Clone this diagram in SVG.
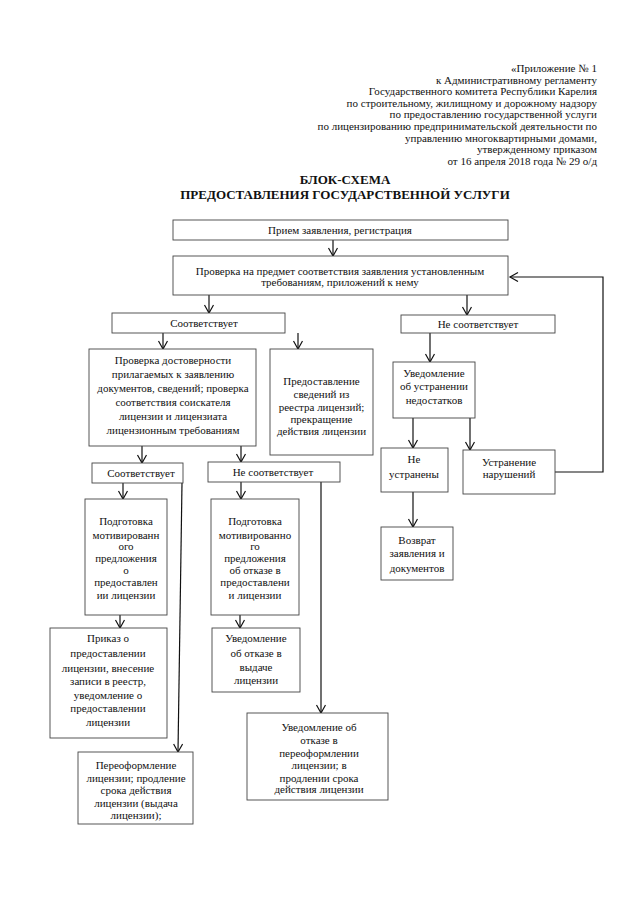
<svg xmlns="http://www.w3.org/2000/svg" width="639" height="905" viewBox="0 0 639 905">
<style>
text{font-family:"Liberation Serif","Times New Roman",serif;font-size:11px;fill:#111}
.hd{text-anchor:end}
.tt{font-weight:bold;font-size:13px;text-anchor:middle}
.c{text-anchor:middle}
rect{fill:#fff;stroke:#444;stroke-width:0.9}
.cn line,.cn polyline{stroke:#111;stroke-width:1.2;fill:none}
</style>
<defs>
<marker id="ar" markerUnits="userSpaceOnUse" markerWidth="12" markerHeight="12" refX="9" refY="5" orient="auto">
<path d="M1,0.5 L9,5 L1,9.5" fill="none" stroke="#111" stroke-width="1.2"/>
</marker>
</defs>
<rect x="0" y="0" width="639" height="905" style="fill:#fff;stroke:none"/>
<g id="header">
<text class="hd" x="597" y="72">«Приложение № 1</text>
<text class="hd" x="597" y="83.6">к Административному регламенту</text>
<text class="hd" x="597" y="95.2">Государственного комитета Республики Карелия</text>
<text class="hd" x="597" y="106.8">по строительному, жилищному и дорожному надзору</text>
<text class="hd" x="597" y="118.4">по предоставлению государственной услуги</text>
<text class="hd" x="597" y="130">по лицензированию предпринимательской деятельности по</text>
<text class="hd" x="597" y="141.6">управлению многоквартирными домами,</text>
<text class="hd" x="597" y="153.2">утвержденному приказом</text>
<text class="hd" x="597" y="164.8">от 16 апреля 2018 года  № 29 о/д</text>
</g>
<g id="title">
<text class="tt" x="345" y="184">БЛОК-СХЕМА</text>
<text class="tt" x="345" y="199">ПРЕДОСТАВЛЕНИЯ ГОСУДАРСТВЕННОЙ УСЛУГИ</text>
</g>
<g class="cn" id="connectors">
<line x1="333" y1="240" x2="333" y2="256" marker-end="url(#ar)"/>
<line x1="209" y1="295" x2="209" y2="313" marker-end="url(#ar)"/>
<line x1="467" y1="295" x2="467" y2="315" marker-end="url(#ar)"/>
<polyline points="555,472 603,472 603,277 510,277" marker-end="url(#ar)"/>
<line x1="163" y1="333" x2="163" y2="349" marker-end="url(#ar)"/>
<line x1="298" y1="333" x2="298" y2="349" marker-end="url(#ar)"/>
<line x1="430" y1="333" x2="430" y2="362" marker-end="url(#ar)"/>
<line x1="413" y1="418" x2="413" y2="448" marker-end="url(#ar)"/>
<line x1="470" y1="418" x2="470" y2="450" marker-end="url(#ar)"/>
<line x1="413" y1="492" x2="413" y2="527" marker-end="url(#ar)"/>
<line x1="142" y1="446" x2="142" y2="463" marker-end="url(#ar)"/>
<line x1="241" y1="446" x2="241" y2="462" marker-end="url(#ar)"/>
<line x1="182" y1="483" x2="178" y2="752" marker-end="url(#ar)"/>
<line x1="321" y1="482" x2="321" y2="713" marker-end="url(#ar)"/>
<line x1="123" y1="483" x2="123" y2="499" marker-end="url(#ar)"/>
<line x1="241" y1="482" x2="241" y2="499" marker-end="url(#ar)"/>
<line x1="120" y1="615" x2="120" y2="628" marker-end="url(#ar)"/>
<line x1="240" y1="615" x2="240" y2="628" marker-end="url(#ar)"/>
</g>
<g id="n1"><rect x="173" y="220" width="335" height="20"/>
<text class="c" x="340" y="234">Прием заявления, регистрация</text></g>
<g id="n2"><rect x="173" y="256" width="335" height="39"/>
<text class="c" x="340" y="274.5">Проверка на предмет соответствия заявления установленным</text>
<text class="c" x="340" y="285.5">требованиям, приложений к нему</text></g>
<g id="n3"><rect x="112" y="313" width="173" height="20"/>
<text class="c" x="204" y="327">Соответствует</text></g>
<g id="n4"><rect x="401" y="315" width="154" height="18"/>
<text class="c" x="478" y="328">Не соответствует</text></g>
<g id="n5"><rect x="89" y="349" width="167" height="97"/>
<text class="c" x="173" y="364">Проверка достоверности</text>
<text class="c" x="173" y="378">прилагаемых к заявлению</text>
<text class="c" x="173" y="392">документов, сведений; проверка</text>
<text class="c" x="173" y="406">соответствия соискателя</text>
<text class="c" x="173" y="420">лицензии и лицензиата</text>
<text class="c" x="173" y="434">лицензионным требованиям</text></g>
<g id="n6"><rect x="270" y="349" width="103" height="106"/>
<text class="c" x="321.5" y="385">Предоставление</text>
<text class="c" x="321.5" y="398">сведений из</text>
<text class="c" x="321.5" y="411">реестра лицензий;</text>
<text class="c" x="321.5" y="423">прекращение</text>
<text class="c" x="321.5" y="435">действия лицензии</text></g>
<g id="n7"><rect x="393" y="362" width="82" height="56"/>
<text class="c" x="434" y="377">Уведомление</text>
<text class="c" x="434" y="390">об устранении</text>
<text class="c" x="434" y="404">недостатков</text></g>
<g id="n8"><rect x="381" y="448" width="67" height="44"/>
<text class="c" x="414" y="463">Не</text>
<text class="c" x="414" y="478">устранены</text></g>
<g id="n9"><rect x="463" y="450" width="92" height="44"/>
<text class="c" x="509" y="466">Устранение</text>
<text class="c" x="509" y="478">нарушений</text></g>
<g id="n10"><rect x="381" y="527" width="72" height="53"/>
<text class="c" x="417" y="544">Возврат</text>
<text class="c" x="417" y="557">заявления и</text>
<text class="c" x="417" y="572">документов</text></g>
<g id="n11"><rect x="92" y="463" width="91" height="20"/>
<text class="c" x="141" y="477">Соответствует</text></g>
<g id="n12"><rect x="208" y="462" width="132" height="20"/>
<text class="c" x="273" y="476">Не соответствует</text></g>
<g id="n13"><rect x="85" y="499" width="82" height="116"/>
<text class="c" x="126" y="525">Подготовка</text>
<text class="c" x="126" y="539">мотивированн</text>
<text class="c" x="126" y="550">ого</text>
<text class="c" x="126" y="562">предложения</text>
<text class="c" x="126" y="574">о</text>
<text class="c" x="126" y="586">предоставлен</text>
<text class="c" x="126" y="599">ии лицензии</text></g>
<g id="n14"><rect x="211" y="499" width="88" height="116"/>
<text class="c" x="255" y="525">Подготовка</text>
<text class="c" x="255" y="539">мотивированно</text>
<text class="c" x="255" y="550">го</text>
<text class="c" x="255" y="562">предложения</text>
<text class="c" x="255" y="574">об отказе в</text>
<text class="c" x="255" y="586">предоставлени</text>
<text class="c" x="255" y="599">и лицензии</text></g>
<g id="n15"><rect x="50" y="628" width="117" height="110"/>
<text class="c" x="108" y="642">Приказ о</text>
<text class="c" x="108" y="657">предоставлении</text>
<text class="c" x="108" y="672">лицензии, внесение</text>
<text class="c" x="108" y="685">записи в реестр,</text>
<text class="c" x="108" y="699">уведомление о</text>
<text class="c" x="108" y="712">предоставлении</text>
<text class="c" x="108" y="726">лицензии</text></g>
<g id="n16"><rect x="212" y="628" width="88" height="64"/>
<text class="c" x="256" y="642">Уведомление</text>
<text class="c" x="256" y="657">об отказе в</text>
<text class="c" x="256" y="671">выдаче</text>
<text class="c" x="256" y="684">лицензии</text></g>
<g id="n17"><rect x="247" y="713" width="141" height="87"/>
<text class="c" x="319" y="731">Уведомление об</text>
<text class="c" x="319" y="744">отказе в</text>
<text class="c" x="319" y="757">переоформлении</text>
<text class="c" x="319" y="769">лицензии; в</text>
<text class="c" x="319" y="782">продлении срока</text>
<text class="c" x="319" y="793">действия лицензии</text></g>
<g id="n18"><rect x="78" y="752" width="115" height="72"/>
<text class="c" x="136" y="769">Переоформление</text>
<text class="c" x="136" y="782">лицензии; продление</text>
<text class="c" x="136" y="794">срока действия</text>
<text class="c" x="136" y="807">лицензии (выдача</text>
<text class="c" x="136" y="819">лицензии);</text></g>
</svg>
